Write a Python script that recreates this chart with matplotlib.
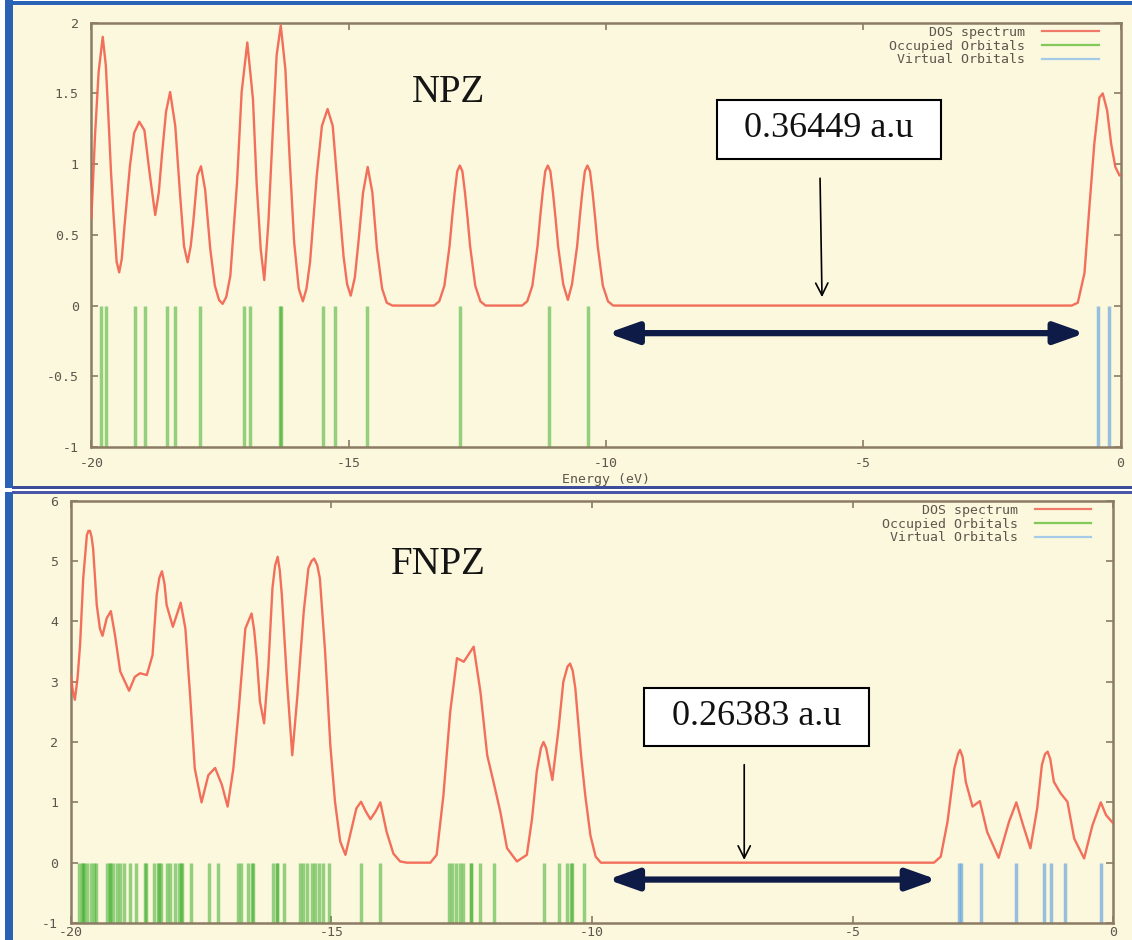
import matplotlib
matplotlib.use('Agg')
import matplotlib.pyplot as plt
from matplotlib.patches import Rectangle
from matplotlib.lines import Line2D

# ---------------- data ----------------
x_ticks = [-20, -15, -10, -5, 0]
x_tick_labels = ['-20', '-15', '-10', '-5', '0']
top_y_ticks = [-1, -0.5, 0, 0.5, 1, 1.5, 2]
top_y_tick_labels = ['-1', '-0.5', '0', '0.5', '1', '1.5', '2']
bot_y_ticks = [-1, 0, 1, 2, 3, 4, 5, 6]
bot_y_tick_labels = ['-1', '0', '1', '2', '3', '4', '5', '6']

legend_labels = ['DOS spectrum', 'Occupied Orbitals', 'Virtual Orbitals']
panel_names = ['NPZ', 'FNPZ']
gap_labels = ['0.36449 a.u', '0.26383 a.u']
x_label = 'Energy (eV)'

# NPZ DOS curve (energy eV, DOS)
npz_dos_e = [-20.0, -19.93, -19.86, -19.78, -19.72, -19.67, -19.62, -19.57, -19.51, -19.46,
             -19.41, -19.35, -19.25, -19.17, -19.07, -18.97, -18.87, -18.76, -18.69, -18.63,
             -18.55, -18.47, -18.37, -18.28, -18.20, -18.13, -18.07, -18.02, -17.94, -17.87,
             -17.79, -17.69, -17.60, -17.52, -17.45, -17.38, -17.30, -17.17, -17.08, -16.97,
             -16.86, -16.79, -16.71, -16.64, -16.56, -16.47, -16.40, -16.32, -16.23, -16.15,
             -16.06, -15.97, -15.89, -15.82, -15.75, -15.62, -15.52, -15.41, -15.31, -15.22,
             -15.10, -15.03, -14.96, -14.88, -14.81, -14.72, -14.63, -14.54, -14.45, -14.35,
             -14.26, -14.15,
             -13.34, -13.24, -13.14, -13.04, -12.99, -12.94, -12.89, -12.84, -12.79, -12.74,
             -12.69, -12.64, -12.54, -12.44, -12.34,
             -11.63, -11.53, -11.43, -11.33, -11.28, -11.23, -11.18, -11.13, -11.08, -11.03,
             -10.98, -10.93, -10.83, -10.74, -10.66, -10.56, -10.51, -10.46, -10.41, -10.36,
             -10.31, -10.26, -10.21, -10.16, -10.06, -9.96, -9.86,
             -0.95, -0.83, -0.70, -0.61, -0.51, -0.41, -0.345, -0.26, -0.18, -0.10, -0.02, 0.0]
npz_dos_v = [0.62, 1.20, 1.65, 1.90, 1.70, 1.34, 0.95, 0.64, 0.31, 0.235,
             0.33, 0.59, 0.99, 1.22, 1.30, 1.24, 0.94, 0.64, 0.80, 1.06,
             1.37, 1.51, 1.27, 0.80, 0.42, 0.306, 0.42, 0.59, 0.92, 0.985,
             0.82, 0.40, 0.14, 0.04, 0.012, 0.06, 0.21, 0.87, 1.51, 1.86,
             1.46, 0.87, 0.40, 0.18, 0.59, 1.27, 1.77, 1.98, 1.67, 1.06,
             0.45, 0.12, 0.03, 0.12, 0.31, 0.92, 1.27, 1.39, 1.27, 0.87,
             0.35, 0.15, 0.07, 0.20, 0.45, 0.80, 0.98, 0.80, 0.40, 0.12,
             0.02, 0.0,
             0.0, 0.03, 0.14, 0.42, 0.62, 0.80, 0.95, 0.99, 0.95, 0.80,
             0.62, 0.42, 0.14, 0.03, 0.0,
             0.0, 0.03, 0.14, 0.42, 0.62, 0.80, 0.95, 0.99, 0.95, 0.80,
             0.62, 0.42, 0.15, 0.04, 0.15, 0.42, 0.62, 0.80, 0.95, 0.99,
             0.95, 0.80, 0.62, 0.42, 0.14, 0.03, 0.0,
             0.0, 0.02, 0.23, 0.67, 1.14, 1.47, 1.50, 1.38, 1.14, 0.98, 0.92, 0.92]

npz_occupied = [-19.82, -19.72, -19.16, -18.96, -18.54, -18.37, -17.89, -17.03, -16.91,
                -16.33, -16.31, -15.50, -15.27, -14.64, -12.83, -11.10, -10.34]
npz_virtual = [-0.43, -0.22]

# FNPZ DOS curve
fnpz_dos_e = [-20.0, -19.96, -19.92, -19.87, -19.82, -19.76, -19.69, -19.66, -19.63, -19.60,
              -19.57, -19.50,
              -19.44, -19.39, -19.31, -19.23, -19.15, -19.05, -18.96, -18.88, -18.77, -18.67,
              -18.54, -18.43, -18.35, -18.30, -18.25, -18.20, -18.16, -18.04, -17.89, -17.80,
              -17.71, -17.62,
              -17.49, -17.36, -17.23, -17.10, -16.99, -16.88, -16.78, -16.65, -16.53, -16.48,
              -16.43,
              -16.37, -16.29, -16.21, -16.13, -16.08, -16.03, -15.99, -15.95, -15.85, -15.75,
              -15.65, -15.53,
              -15.44, -15.38, -15.33, -15.27, -15.22, -15.12, -15.02, -14.93, -14.83, -14.73,
              -14.61, -14.52, -14.43,
              -14.34, -14.25, -14.15, -14.06, -13.94, -13.81, -13.68, -13.55,
              -13.10, -12.98, -12.85, -12.72, -12.59, -12.46, -12.27, -12.14, -12.01, -11.89,
              -11.76, -11.63, -11.44, -11.25, -11.15, -11.06, -10.98, -10.93, -10.88, -10.76,
              -10.64, -10.55,
              -10.47, -10.42, -10.37, -10.32, -10.21, -10.13, -10.03, -9.93, -9.83,
              -3.44, -3.31, -3.18, -3.05, -2.98, -2.94, -2.89, -2.83, -2.70, -2.56,
              -2.42, -2.20,
              -2.00, -1.86, -1.73, -1.59, -1.46, -1.37, -1.31, -1.26, -1.21, -1.14,
              -1.01, -0.88,
              -0.75, -0.56, -0.40, -0.24, -0.14, 0.0]
fnpz_dos_v = [3.11, 2.85, 2.70, 3.05, 3.61, 4.71, 5.43, 5.50, 5.50, 5.40,
              5.21, 4.27,
              3.88, 3.76, 4.05, 4.17, 3.77, 3.17, 3.00, 2.85, 3.08, 3.14,
              3.11, 3.44, 4.44, 4.72, 4.83, 4.62, 4.27, 3.91, 4.31, 3.88,
              2.78, 1.56,
              1.00, 1.45, 1.57, 1.29, 0.93, 1.56, 2.50, 3.88, 4.13, 3.85,
              3.39,
              2.67, 2.31, 3.22, 4.55, 4.92, 5.07, 4.85, 4.44, 3.00, 1.78,
              2.78, 4.16,
              4.88, 5.00, 5.04, 4.93, 4.71, 3.50, 1.95, 1.01, 0.35, 0.13,
              0.57, 0.90, 1.01,
              0.85, 0.72, 0.85, 1.00, 0.51, 0.15, 0.02, 0.0,
              0.0, 0.13, 1.12, 2.50, 3.39, 3.33, 3.58, 2.83, 1.78, 1.34,
              0.85, 0.24, 0.02, 0.13, 0.73, 1.51, 1.90, 2.00, 1.90, 1.37,
              2.23, 3.00,
              3.25, 3.30, 3.18, 2.89, 1.78, 1.12, 0.45, 0.10, 0.0,
              0.0, 0.10, 0.68, 1.56, 1.80, 1.87, 1.75, 1.34, 0.93, 1.02,
              0.51, 0.08,
              0.68, 1.00, 0.62, 0.24, 0.90, 1.62, 1.80, 1.84, 1.72, 1.34,
              1.15, 1.01,
              0.40, 0.07, 0.62, 1.00, 0.79, 0.65]

fnpz_occupied = [-19.84, -19.79, -19.76, -19.74, -19.68, -19.62, -19.55, -19.51,
                 -19.31, -19.25, -19.24, -19.19, -19.12, -19.05, -18.98,
                 -18.86, -18.74, -18.57, -18.56,
                 -18.40, -18.33, -18.31, -18.27,
                 -18.15, -18.09, -18.00, -17.93, -17.88, -17.87,
                 -17.70, -17.35, -17.17,
                 -16.80, -16.74, -16.60, -16.52, -16.51,
                 -16.12, -16.05, -16.04, -15.90,
                 -15.61, -15.54, -15.46, -15.38, -15.31, -15.24, -15.16, -15.05,
                 -14.43, -14.06,
                 -12.74, -12.68, -12.61, -12.54, -12.47, -12.33, -12.32, -12.15, -11.88,
                 -10.93, -10.63, -10.47, -10.40, -10.39, -10.16]
fnpz_virtual = [-2.96, -2.92, -2.53, -1.86, -1.32, -1.20, -0.92, -0.24]

# ---------------- styling ----------------
W, H = 1132, 940
CREAM = '#fbf8dd'
FRAME = '#8c7c64'
TICKTXT = '#5e564c'
RED = '#f2604e'
GREEN = '#3fae2e'
BLUE = '#6aa8dc'
NAVY = '#0e1b46'
MONO = 'DejaVu Sans Mono'
SERIF = 'Liberation Serif'

fig = plt.figure(figsize=(W / 100, H / 100), dpi=100)
fig.patch.set_facecolor('white')


def fig_rect(x0, y0, x1, y1, color):
    fig.patches.append(Rectangle((x0 / W, 1 - y1 / H), (x1 - x0) / W, (y1 - y0) / H,
                                 transform=fig.transFigure, facecolor=color,
                                 edgecolor='none', zorder=-5))


# panel backgrounds and blue frames
fig_rect(12, 4, W, 487, CREAM)
fig_rect(12, 493, W, H, CREAM)
fig_rect(5, 0, 13, 488, '#2a62b6')
fig_rect(5, 492, 13, H, '#2a62b6')
fig_rect(5, 1, W, 5, '#2a62b6')
fig_rect(12, 486, W, 489, '#3e4c9e')
fig_rect(12, 491, W, 494, '#4a56a8')

ax1 = fig.add_axes([91.4 / W, 1 - 447 / H, (1120.5 - 91.4) / W, (447 - 22.7) / H])
ax2 = fig.add_axes([70.7 / W, 1 - 923 / H, (1113.3 - 70.7) / W, (923 - 500.7) / H])


def style(ax, ylim, yt, ytl, xpad):
    ax.set_facecolor(CREAM)
    ax.set_xlim(-20, 0)
    ax.set_ylim(*ylim)
    for s in ax.spines.values():
        s.set_color(FRAME)
        s.set_linewidth(1.8)
    ax.set_xticks(x_ticks)
    ax.set_xticklabels(x_tick_labels)
    ax.set_yticks(yt)
    ax.set_yticklabels(ytl)
    ax.tick_params(direction='in', length=5, width=1.2, color=FRAME, top=True, right=True,
                   labelsize=9.5, labelcolor=TICKTXT)
    ax.tick_params(axis='x', pad=xpad)
    ax.tick_params(axis='y', pad=9)
    for lab in ax.get_xticklabels() + ax.get_yticklabels():
        lab.set_family(MONO)


style(ax1, (-1, 2), top_y_ticks, top_y_tick_labels, 7)
style(ax2, (-1, 6), bot_y_ticks, bot_y_tick_labels, 2)

ax1.set_xlabel(x_label, family=MONO, fontsize=9.5, color=TICKTXT, labelpad=2)


def draw_panel(ax, dos_e, dos_v, occ, virt):
    ax.vlines(occ, -1, 0, colors=GREEN, linewidth=2.5, alpha=0.55, zorder=2)
    ax.vlines(virt, -1, 0, colors=BLUE, linewidth=2.5, alpha=0.7, zorder=2)
    ax.plot(dos_e, dos_v, color=RED, linewidth=1.7, alpha=0.9, zorder=3,
            solid_joinstyle='round')
    handles = [Line2D([], [], color='#f07a6a', lw=1.6),
               Line2D([], [], color='#84c85a', lw=1.6),
               Line2D([], [], color='#a6cbe8', lw=1.6)]
    ax.legend(handles, legend_labels, loc='upper right', bbox_to_anchor=(0.979, 0.992),
              frameon=False, markerfirst=False, borderpad=0, borderaxespad=0,
              handlelength=4.3, handletextpad=1.3, labelspacing=0.05,
              prop={'family': MONO, 'size': 9.5}, labelcolor=TICKTXT)


draw_panel(ax1, npz_dos_e, npz_dos_v, npz_occupied, npz_virtual)
draw_panel(ax2, fnpz_dos_e, fnpz_dos_v, fnpz_occupied, fnpz_virtual)

# panel names
ax1.text(-13.06, 1.51, panel_names[0], family=SERIF, fontsize=28, color='#151515',
         ha='center', va='center', zorder=6)
ax2.text(-12.95, 4.94, panel_names[1], family=SERIF, fontsize=28, color='#151515',
         ha='center', va='center', zorder=6)

# gap boxes
ax1.add_patch(Rectangle((-7.85, 1.039), 4.36, 0.417, facecolor='white', edgecolor='black',
                        linewidth=1.5, zorder=5))
ax1.text(-5.67, 1.25, gap_labels[0], family=SERIF, fontsize=26, color='#111111',
         ha='center', va='center', zorder=6)
ax2.add_patch(Rectangle((-9.0, 1.93), 4.32, 0.96, facecolor='white', edgecolor='black',
                        linewidth=1.5, zorder=5))
ax2.text(-6.85, 2.43, gap_labels[1], family=SERIF, fontsize=26, color='#111111',
         ha='center', va='center', zorder=6)

# thin pointer arrows
ax1.annotate('', xy=(-5.80, 0.04), xytext=(-5.84, 0.92),
             arrowprops=dict(arrowstyle='->', lw=1.2, color='black', mutation_scale=22),
             zorder=6)
ax2.annotate('', xy=(-7.08, 0.0), xytext=(-7.08, 1.67),
             arrowprops=dict(arrowstyle='->', lw=1.2, color='black', mutation_scale=22),
             zorder=6)

# thick double arrows (gap)
DARROW = '<|-|>,head_length=0.9,head_width=0.32'
ax1.annotate('', xy=(-0.69, -0.195), xytext=(-9.97, -0.195),
             arrowprops=dict(arrowstyle=DARROW, lw=4.5, color=NAVY, mutation_scale=20,
                             shrinkA=0, shrinkB=0), zorder=6)
ax2.annotate('', xy=(-3.38, -0.28), xytext=(-9.70, -0.28),
             arrowprops=dict(arrowstyle=DARROW, lw=4.5, color=NAVY, mutation_scale=20,
                             shrinkA=0, shrinkB=0), zorder=6)

fig.savefig('out.png', dpi=100, facecolor=fig.get_facecolor())
